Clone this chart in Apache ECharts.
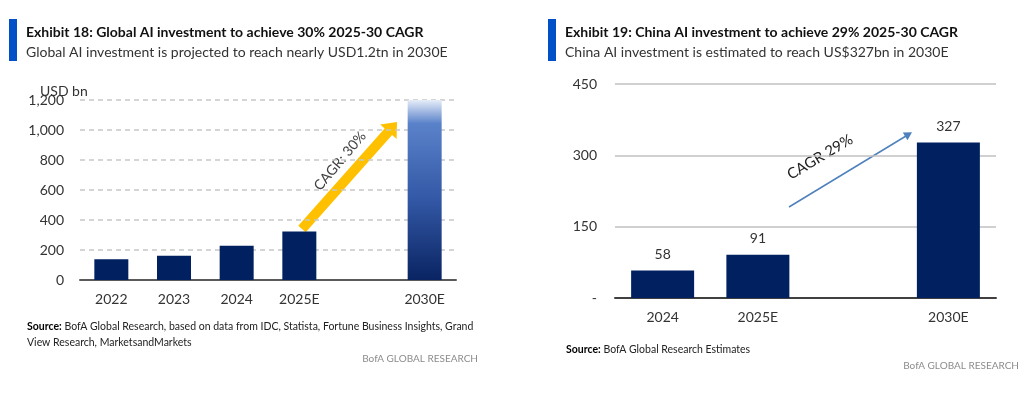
<!DOCTYPE html>
<html>
<head>
<meta charset="utf-8">
<script src="https://cdn.jsdelivr.net/npm/echarts@6/dist/echarts.min.js"></script>
<style>
  html, body { margin: 0; padding: 0; background: #fff; }
  #chart { width: 1024px; height: 398px; }
</style>
</head>
<body>
<div id="chart"></div>
<script>
// Exhibit 18 - global AI investment, USD bn
var globalYears = ['2022', '2023', '2024', '2025E', '', '2030E']
var globalValues = [138, 162, 229, 324, null, 1200]
var globalTicks = [0, 200, 400, 600, 800, 1000, 1200]

// Exhibit 19 - China AI investment, USD bn
var chinaYears = ['2024', '2025E', '', '2030E']
var chinaValues = [58, 91, null, 327]
var chinaTicks = [0, 150, 300, 450]

var FONT = 'Lato, "Noto Sans", sans-serif'
var NAVY = '#002060'
var TEXT = '#333333'

var chartDom = document.getElementById('chart')
var myChart = echarts.init(chartDom, null, { renderer: 'canvas' })

function fmtThousands (v) {
  return String(v).replace(/\B(?=(\d{3})+(?!\d))/g, ',')
}

var globalData = globalValues.map(function (v, i) {
  if (globalYears[i] === '2030E') {
    return {
      value: v,
      itemStyle: {
        color: new echarts.graphic.LinearGradient(0, 0, 0, 1, [
          { offset: 0, color: '#e6edf8' },
          { offset: 0.13, color: '#5a82ca' },
          { offset: 0.55, color: '#3358a6' },
          { offset: 1, color: '#0a2462' }
        ])
      }
    }
  }
  return v
})

// arrow outline: shaft from (sx,sy) to head tip (tx,ty)
function thickArrow (sx, sy, tx, ty, shaft, headLen, headHalf) {
  var dx = tx - sx
  var dy = ty - sy
  var len = Math.sqrt(dx * dx + dy * dy)
  var ux = dx / len
  var uy = dy / len
  var nx = -uy
  var ny = ux
  var bx = tx - ux * headLen
  var by = ty - uy * headLen
  return [
    [sx + nx * shaft, sy + ny * shaft],
    [bx + nx * shaft, by + ny * shaft],
    [bx + nx * headHalf, by + ny * headHalf],
    [tx, ty],
    [bx - nx * headHalf, by - ny * headHalf],
    [bx - nx * shaft, by - ny * shaft],
    [sx - nx * shaft, sy - ny * shaft]
  ]
}

var sourceRich = { b: { fontWeight: 'bold', fontSize: 10.5, fontFamily: FONT, fill: '#000' } }

var option = {
  animation: false,
  textStyle: { fontFamily: FONT },
  grid: [
    { left: 80, right: 568, top: 100, bottom: 118 },
    { left: 615, right: 28, top: 84, bottom: 100 }
  ],
  xAxis: [
    {
      type: 'category',
      gridIndex: 0,
      data: globalYears,
      axisTick: { show: false },
      axisLine: { lineStyle: { color: '#5a5a5a', width: 2 } },
      axisLabel: { color: TEXT, fontSize: 14, margin: 12, fontFamily: FONT }
    },
    {
      type: 'category',
      gridIndex: 1,
      data: chinaYears,
      axisTick: { show: false },
      axisLine: { lineStyle: { color: '#404040', width: 2 } },
      axisLabel: { color: TEXT, fontSize: 14, margin: 12, fontFamily: FONT }
    }
  ],
  yAxis: [
    {
      type: 'value',
      gridIndex: 0,
      min: globalTicks[0],
      max: globalTicks[globalTicks.length - 1],
      interval: globalTicks[1] - globalTicks[0],
      axisLine: { show: false },
      axisTick: { show: false },
      axisLabel: { color: TEXT, fontSize: 14, margin: 16, fontFamily: FONT, formatter: fmtThousands },
      splitLine: { lineStyle: { color: '#c8c8c8', width: 1.5, type: [5, 4] } }
    },
    {
      type: 'value',
      gridIndex: 1,
      min: chinaTicks[0],
      max: chinaTicks[chinaTicks.length - 1],
      interval: chinaTicks[1] - chinaTicks[0],
      axisLine: { show: false },
      axisTick: { show: false },
      axisLabel: {
        color: TEXT,
        fontSize: 14,
        margin: 18,
        fontFamily: FONT,
        formatter: function (v) { return v === 0 ? '-' : String(v) }
      },
      splitLine: { lineStyle: { color: '#c0c0c0', width: 1.5 } }
    }
  ],
  series: [
    {
      type: 'bar',
      xAxisIndex: 0,
      yAxisIndex: 0,
      data: globalData,
      barWidth: 34,
      itemStyle: { color: NAVY }
    },
    {
      type: 'bar',
      xAxisIndex: 1,
      yAxisIndex: 1,
      data: chinaValues,
      barWidth: 63,
      itemStyle: { color: NAVY },
      label: {
        show: true,
        position: 'top',
        distance: 9,
        color: TEXT,
        fontSize: 14,
        fontFamily: FONT
      }
    }
  ],
  graphic: [
    // headings
    { type: 'rect', shape: { x: 9, y: 19, width: 8, height: 42 }, style: { fill: '#0050c8' } },
    { type: 'text', x: 26, y: 32, style: { text: 'Exhibit 18: Global AI investment to achieve 30% 2025-30 CAGR', font: 'bold 14px ' + FONT, fill: '#111', verticalAlign: 'middle' } },
    { type: 'text', x: 26, y: 52, style: { text: 'Global AI investment is projected to reach nearly USD1.2tn in 2030E', font: '14px ' + FONT, fill: '#333', verticalAlign: 'middle' } },
    { type: 'rect', shape: { x: 548, y: 19, width: 8, height: 42 }, style: { fill: '#0050c8' } },
    { type: 'text', x: 565, y: 32, style: { text: 'Exhibit 19: China AI investment to achieve 29% 2025-30 CAGR', font: 'bold 14px ' + FONT, fill: '#111', verticalAlign: 'middle' } },
    { type: 'text', x: 565, y: 52, style: { text: 'China AI investment is estimated to reach US$327bn in 2030E', font: '14px ' + FONT, fill: '#333', verticalAlign: 'middle' } },

    // unit label
    { type: 'text', x: 40, y: 91, style: { text: 'USD bn', font: '14px ' + FONT, fill: TEXT, verticalAlign: 'middle' } },

    // CAGR annotations
    { type: 'polygon', shape: { points: thickArrow(302, 229, 397, 122, 5, 13, 11) }, style: { fill: '#ffc000' } },
    { type: 'text', x: 340, y: 161, rotation: 50 * Math.PI / 180, style: { text: 'CAGR: 30%', font: '14px ' + FONT, fill: '#404040', align: 'center', verticalAlign: 'middle' } },
    { type: 'line', shape: { x1: 789, y1: 207, x2: 906, y2: 136 }, style: { stroke: '#4f81bd', lineWidth: 1.5 } },
    { type: 'polygon', shape: { points: thickArrow(900, 139.6, 912, 132.3, 0, 8, 4.5) }, style: { fill: '#4f81bd' } },
    { type: 'text', x: 820, y: 157, rotation: 31 * Math.PI / 180, style: { text: 'CAGR 29%', font: '15px ' + FONT, fill: '#222', align: 'center', verticalAlign: 'middle' } },

    // sources
    { type: 'text', x: 27, y: 327, style: { text: '{b|Source:} BofA Global Research, based on data from IDC, Statista, Fortune Business Insights, Grand', font: '10.5px ' + FONT, fill: '#222', verticalAlign: 'middle', rich: sourceRich } },
    { type: 'text', x: 27, y: 343, style: { text: 'View Research, MarketsandMarkets', font: '10.5px ' + FONT, fill: '#222', verticalAlign: 'middle' } },
    { type: 'text', x: 478, y: 359, style: { text: 'BofA GLOBAL RESEARCH', font: '10px ' + FONT, fill: '#8c8c8c', align: 'right', verticalAlign: 'middle' } },
    { type: 'text', x: 566, y: 350, style: { text: '{b|Source:} BofA Global Research Estimates', font: '10.5px ' + FONT, fill: '#222', verticalAlign: 'middle', rich: sourceRich } },
    { type: 'text', x: 1019, y: 366, style: { text: 'BofA GLOBAL RESEARCH', font: '10px ' + FONT, fill: '#8c8c8c', align: 'right', verticalAlign: 'middle' } }
  ]
}

option && myChart.setOption(option)
</script>
</body>
</html>
